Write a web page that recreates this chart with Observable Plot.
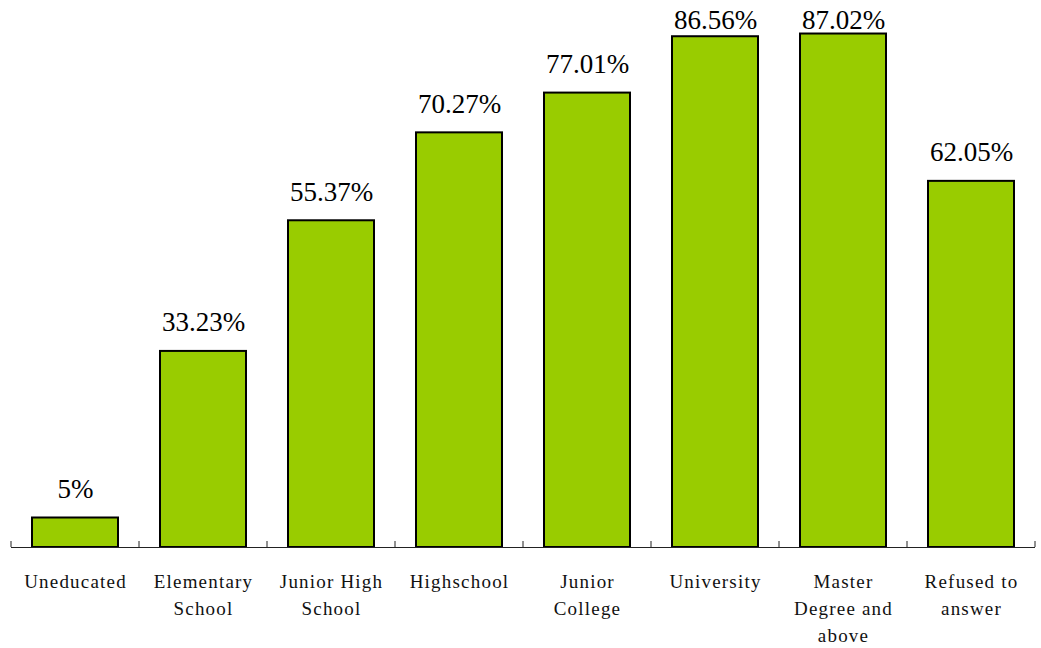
<!DOCTYPE html>
<html>
<head>
<meta charset="utf-8">
<script src="https://cdn.jsdelivr.net/npm/d3@7"></script>
<script src="https://cdn.jsdelivr.net/npm/@observablehq/plot@0.6"></script>
<style>
  html, body { margin: 0; padding: 0; background: #fff; }
  #chart svg { display: block; }
  #chart svg text, #chart svg tspan { white-space: pre; font-family: "Liberation Serif", serif !important; }
</style>
</head>
<body>
<div id="chart"></div>
<script>
const categories = ["Uneducated", "Elementary School", "Junior High School", "Highschool", "Junior College", "University", "Master Degree and above", "Refused to answer"];
const tickLabels = ["Uneducated", "Elementary\nSchool", "Junior High\nSchool", "Highschool", "Junior\nCollege", "University", "Master\nDegree and\nabove", "Refused to\nanswer"];
const values = [5, 33.23, 55.37, 70.27, 77.01, 86.56, 87.02, 62.05];

const data = categories.map((c, i) => ({category: c, value: values[i]}));
const labelOf = new Map(categories.map((c, i) => [c, tickLabels[i]]));

const FONT = "Liberation Serif";
const W = 1041, H = 648;
const plot = Plot.plot({
  width: W,
  height: H,
  marginLeft: 11,
  marginRight: 6,
  marginTop: 0,
  marginBottom: 101,
  style: {background: "#fff", color: "#000", fontFamily: FONT},
  x: {domain: categories, padding: 0, axis: null},
  y: {domain: [0, 92.7], axis: null},
  marks: [
    Plot.barY(data, {x: "category", y: "value", fill: "#99cc00", stroke: "#000", strokeWidth: 2, insetLeft: 21, insetRight: 21}),
    Plot.ruleY([0], {stroke: "#222", strokeWidth: 1}),
    Plot.text(data, {x: "category", y: d => Math.min(d.value, 84.4), text: d => `${d.value}%`, lineAnchor: "bottom", dy: -20, fontSize: 27, fontFamily: FONT, fill: "#000"}),
    Plot.axisX({tickFormat: d => labelOf.get(d), label: null, tickSize: 0, tickPadding: 22, fontSize: 19, fontFamily: FONT, lineHeight: 1.4, fill: "#111"})
  ]
});
document.getElementById("chart").appendChild(plot);

const svgEl = plot.tagName.toLowerCase() === "svg" ? plot : plot.querySelector("svg");
const svg = d3.select(svgEl);
svg.attr("font-family", FONT);
svg.selectAll("text").attr("font-family", FONT);

// boundary tick marks along the baseline, derived from the band scale
const sx = plot.scale("x");
const sy = plot.scale("y");
const y0 = sy.range[0];
const g = svg.append("g").attr("stroke", "#222").attr("stroke-width", 1);
for (let i = 0; i <= categories.length; i++) {
  const x = sx.range[0] + i * sx.step;
  g.append("line").attr("x1", x).attr("x2", x).attr("y1", y0 - 6).attr("y2", y0);
}
svg.selectAll('g[aria-label="x-axis tick label"] text').style("letter-spacing", "1.2px");
</script>
</body>
</html>
